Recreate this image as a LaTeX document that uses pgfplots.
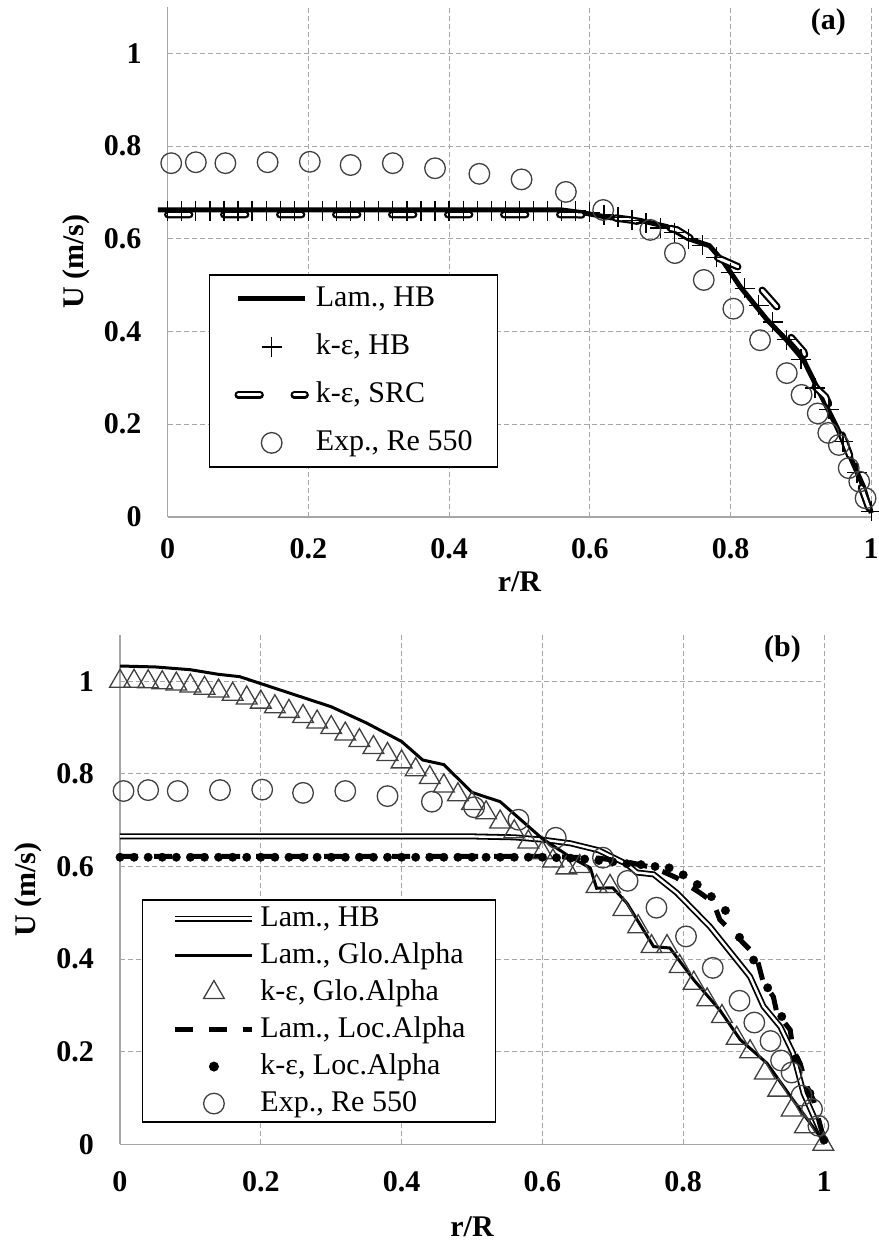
\documentclass[border=0pt]{standalone}
\usepackage{fontspec}
\setmainfont{Liberation Serif}
\usepackage{pgfplots}
\pgfplotsset{compat=1.18}
\definecolor{gridgray}{RGB}{166,166,166}
\definecolor{mkgray}{RGB}{64,64,64}

\pgfplotsset{
 base/.style={
  scale only axis, width=703.5pt, height=509.8pt,
  xmin=0, xmax=1, ymin=0, ymax=1.1,
  xtick={0,0.2,0.4,0.6,0.8,1}, ytick={0,0.2,0.4,0.6,0.8,1},
  axis x line*=bottom, axis y line*=left,
  axis line style={gridgray, line width=1.5pt},
  major tick length=0pt,
  grid=major,
  major grid style={gridgray, line width=1pt, dash pattern=on 5pt off 3pt},
  /pgf/number format/assume math mode=true,
  tick label style={font=\fontsize{30}{36}\selectfont\bfseries, inner sep=0pt},
  yticklabel style={anchor=east, xshift=-26pt},
  label style={font=\fontsize{30}{36}\selectfont\bfseries},
  xlabel={r/R}, ylabel={U (m/s)},
  ylabel style={at={(axis description cs:-0.1294,0.5)}, anchor=center},
  clip=false,
  legend cell align=left,
 }
}

\begin{document}
\begin{tikzpicture}
\path[use as bounding box] (0pt,0pt) rectangle (878pt,1241pt);

% ---------------- (a)
\begin{axis}[base, at={(167.7pt,724.2pt)}, anchor=south west,
  xticklabel style={anchor=north, yshift=-22pt},
  xlabel style={at={(axis description cs:0.5,-0.1279)}, anchor=center},
  legend style={at={(axis description cs:0.0583,0.476)}, anchor=north west,
    draw=black, line width=1.5pt, inner xsep=25pt, inner ysep=0pt,
    font=\fontsize{30}{36}\selectfont, column sep=7pt, row sep=0pt,
    nodes={inner xsep=0pt, inner ysep=9.5pt, text height=22pt, text depth=7pt}},
  legend image code/.code={\draw[mark repeat=2,mark phase=2,#1] plot coordinates {(0pt,0pt) (33.5pt,0pt) (67pt,0pt)};},
]
\addplot[black, line width=5pt, line join=round] coordinates {
(-0.014,0.662) (0,0.662) (0.56,0.662) (0.59,0.656) (0.63,0.645) (0.67,0.640) (0.71,0.626)
(0.74,0.600) (0.77,0.585) (0.79,0.550) (0.814,0.496) (0.852,0.425) (0.880,0.381)
(0.904,0.338) (0.927,0.267) (0.951,0.194) (0.970,0.130) (0.989,0.065) (1.0,0.008)};
\addlegendentry{Lam., HB}
\addplot[only marks, mark=+, mark size=10pt, black, line width=1.3pt] coordinates {
(0,0.660) (0.02,0.660) (0.04,0.660) (0.06,0.660) (0.08,0.660) (0.10,0.660)
(0.12,0.660) (0.14,0.660) (0.16,0.660) (0.18,0.660) (0.20,0.660) (0.22,0.660)
(0.24,0.660) (0.26,0.660) (0.28,0.660) (0.30,0.660) (0.32,0.660) (0.34,0.660)
(0.36,0.660) (0.38,0.660) (0.40,0.660) (0.42,0.660) (0.44,0.660) (0.46,0.660)
(0.48,0.660) (0.50,0.660) (0.52,0.660) (0.54,0.660) (0.56,0.660) (0.58,0.660)
(0.60,0.657) (0.62,0.652) (0.64,0.646) (0.66,0.640) (0.68,0.634) (0.70,0.623)
(0.72,0.613) (0.74,0.600) (0.76,0.586) (0.78,0.560) (0.80,0.527) (0.82,0.493)
(0.84,0.456) (0.86,0.420) (0.88,0.382) (0.90,0.340) (0.92,0.278) (0.94,0.232)
(0.96,0.162) (0.98,0.095) (1.00,0.012)};
\addlegendentry{k-ε, HB}
\addplot[black, double=white, double distance=3pt, line width=2.2pt, line cap=round,
  dash pattern=on 22pt off 34pt] coordinates {
(0,0.652) (0.58,0.652) (0.62,0.648) (0.66,0.640) (0.70,0.627) (0.724,0.619)
(0.743,0.601) (0.78,0.560) (0.81,0.540) (0.842,0.494) (0.866,0.453) (0.885,0.389)
(0.904,0.356) (0.918,0.284) (0.935,0.259) (0.955,0.19) (0.975,0.11) (1.0,0.005)};
\addlegendentry{k-ε, SRC}
\addplot[only marks, mark=o, mark size=10.3pt, mkgray, line width=1.3pt] coordinates {
(0.005,0.763) (0.040,0.765) (0.082,0.763) (0.142,0.765) (0.202,0.766) (0.260,0.759)
(0.320,0.763) (0.380,0.752) (0.443,0.740) (0.503,0.728) (0.566,0.701) (0.619,0.662)
(0.686,0.619) (0.721,0.569) (0.762,0.511) (0.804,0.449) (0.842,0.381) (0.880,0.310)
(0.901,0.263) (0.924,0.223) (0.939,0.181) (0.954,0.155) (0.968,0.105) (0.983,0.076)
(0.992,0.040)};
\addlegendentry{Exp., Re 550}
\node[font=\fontsize{30}{36}\selectfont\bfseries] at (axis cs:0.939,1.0675) {(a)};
\end{axis}

% ---------------- (b)
\begin{axis}[base, at={(120pt,96.7pt)}, anchor=south west, height=509.3pt, width=704pt,
  xticklabel style={anchor=north, yshift=-27pt},
  xlabel style={at={(axis description cs:0.5,-0.1624)}, anchor=center},
  ylabel style={at={(axis description cs:-0.1307,0.5)}, anchor=center},
  legend style={at={(axis description cs:0.0308,0.481)}, anchor=north west,
    draw=black, line width=1.5pt, inner xsep=30pt, inner ysep=0pt,
    font=\fontsize{30}{36}\selectfont, column sep=5pt, row sep=0pt,
    nodes={inner xsep=0pt, inner ysep=4pt, text height=22pt, text depth=7pt}},
  legend image code/.code={\draw[mark repeat=2,mark phase=2,#1] plot coordinates {(0pt,0pt) (38.5pt,0pt) (77pt,0pt)};},
]
\addplot[black, double=white, double distance=2.4pt, line width=1.8pt] coordinates {
(0,0.665) (0.50,0.665) (0.56,0.663) (0.60,0.658) (0.64,0.650) (0.68,0.635)
(0.72,0.605) (0.734,0.587) (0.758,0.583) (0.791,0.543) (0.838,0.470) (0.895,0.362)
(0.914,0.298) (0.938,0.254) (0.956,0.197) (0.971,0.110) (1.0,0.01)};
\addlegendentry{Lam., HB}
\addplot[black, line width=3pt] coordinates {
(0,1.033) (0.05,1.031) (0.10,1.025) (0.14,1.015) (0.17,1.010) (0.20,0.995)
(0.25,0.970) (0.28,0.955) (0.30,0.945) (0.35,0.91) (0.40,0.87) (0.43,0.83)
(0.46,0.82) (0.50,0.76) (0.54,0.74) (0.57,0.70) (0.60,0.66) (0.64,0.62)
(0.668,0.597) (0.677,0.553) (0.70,0.554) (0.72,0.521) (0.758,0.427) (0.781,0.424)
(0.815,0.355) (0.852,0.290) (0.881,0.226) (0.919,0.175) (0.956,0.096) (1.0,0.005)};
\addlegendentry{Lam., Glo.Alpha}
\addplot[only marks, mark=triangle, mark size=12pt, mkgray, line width=1.3pt] coordinates {
(0,1.000) (0.02,1.000) (0.04,0.999) (0.06,0.997) (0.08,0.994) (0.10,0.990)
(0.12,0.985) (0.14,0.979) (0.16,0.972) (0.18,0.964) (0.20,0.955) (0.22,0.945)
(0.24,0.935) (0.26,0.924) (0.28,0.912) (0.30,0.900) (0.32,0.886) (0.34,0.872)
(0.36,0.857) (0.38,0.842) (0.40,0.826) (0.42,0.809) (0.44,0.792) (0.46,0.774)
(0.48,0.755) (0.50,0.736) (0.52,0.716) (0.54,0.696) (0.56,0.675) (0.58,0.653)
(0.60,0.630) (0.615,0.612) (0.634,0.597) (0.653,0.600) (0.677,0.557) (0.696,0.557)
(0.715,0.507) (0.736,0.470) (0.755,0.427) (0.777,0.427) (0.795,0.384) (0.815,0.348)
(0.834,0.312) (0.855,0.276) (0.876,0.229) (0.895,0.200) (0.916,0.154) (0.935,0.117)
(0.954,0.074) (0.973,0.038) (0.999,0.0)};
\addlegendentry{k-ε, Glo.Alpha}
\addplot[black, line width=5pt, dash pattern=on 18pt off 16pt] coordinates {
(0,0.622) (0.60,0.622) (0.68,0.618) (0.72,0.610) (0.75,0.600) (0.771,0.589)
(0.79,0.576) (0.824,0.543) (0.843,0.522) (0.852,0.485) (0.876,0.449) (0.895,0.420)
(0.905,0.400) (0.914,0.348) (0.928,0.319) (0.933,0.284) (0.952,0.247) (0.956,0.204)
(0.966,0.175) (0.976,0.124) (0.985,0.096) (1.0,0.01)};
\addlegendentry{Lam., Loc.Alpha}
\addplot[only marks, mark=*, mark size=4.2pt, black] coordinates {
(0,0.620) (0.02,0.620) (0.04,0.620) (0.06,0.620) (0.08,0.620) (0.10,0.620)
(0.12,0.620) (0.14,0.620) (0.16,0.620) (0.18,0.620) (0.20,0.620) (0.22,0.620)
(0.24,0.620) (0.26,0.620) (0.28,0.620) (0.30,0.620) (0.32,0.620) (0.34,0.620)
(0.36,0.620) (0.38,0.620) (0.40,0.620) (0.42,0.620) (0.44,0.620) (0.46,0.620)
(0.48,0.620) (0.50,0.620) (0.52,0.620) (0.54,0.620) (0.56,0.620) (0.58,0.620)
(0.60,0.620) (0.62,0.619) (0.64,0.618) (0.66,0.616) (0.68,0.613) (0.70,0.610)
(0.72,0.606) (0.74,0.604) (0.76,0.600) (0.78,0.597) (0.80,0.582) (0.82,0.561)
(0.84,0.535) (0.86,0.505) (0.88,0.447) (0.90,0.398) (0.92,0.338) (0.94,0.276)
(0.96,0.185) (0.98,0.110) (1.00,0.009)};
\addlegendentry{k-ε, Loc.Alpha}
\addplot[only marks, mark=o, mark size=10.3pt, mkgray, line width=1.3pt] coordinates {
(0.005,0.763) (0.040,0.765) (0.082,0.763) (0.142,0.765) (0.202,0.766) (0.260,0.759)
(0.320,0.763) (0.380,0.752) (0.443,0.740) (0.503,0.728) (0.566,0.701) (0.619,0.662)
(0.686,0.619) (0.721,0.569) (0.762,0.511) (0.804,0.449) (0.842,0.381) (0.880,0.310)
(0.901,0.263) (0.924,0.223) (0.939,0.181) (0.954,0.155) (0.968,0.105) (0.983,0.076)
(0.992,0.040)};
\addlegendentry{Exp., Re 550}
\node[font=\fontsize{30}{36}\selectfont\bfseries] at (axis cs:0.941,1.069) {(b)};
\end{axis}
\end{tikzpicture}
\end{document}
